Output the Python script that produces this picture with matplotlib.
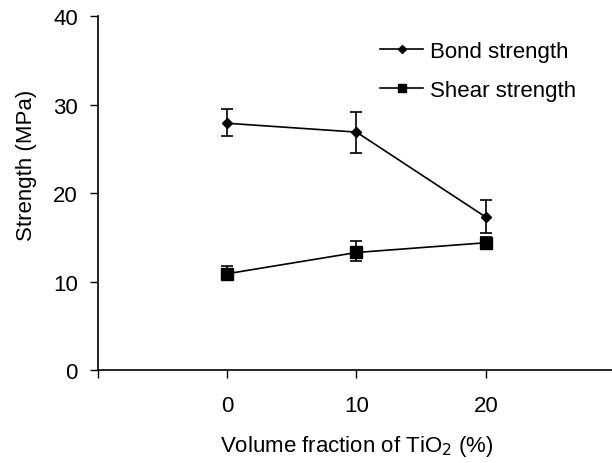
import matplotlib

matplotlib.use("Agg")
import matplotlib.pyplot as plt
from matplotlib.lines import Line2D

plt.rcParams["font.family"] = ["Liberation Sans", "DejaVu Sans"]

volume_fraction = [0, 10, 20]
bond_strength = [27.9, 26.9, 17.3]
bond_err_low = [1.4, 2.4, 1.8]
bond_err_high = [1.6, 2.3, 1.9]
shear_strength = [10.9, 13.3, 14.4]
shear_err_low = [0.7, 1.0, 0.6]
shear_err_high = [0.9, 1.3, 0.7]

fig = plt.figure(figsize=(6.12, 4.64), dpi=100)
ax = fig.add_axes([0.160, 0.200, 0.845, 0.763])

line_kw = dict(color="black", linewidth=1.2, elinewidth=1.2,
               capsize=4.3, capthick=1.2)
ax.errorbar(volume_fraction, bond_strength, yerr=[bond_err_low, bond_err_high],
            marker="D", markersize=5.6, **line_kw)
ax.errorbar(volume_fraction, shear_strength, yerr=[shear_err_low, shear_err_high],
            marker="s", markersize=8.5, **line_kw)

ax.set_xlim(-10, 30)
ax.set_ylim(0, 40)
ax.set_xticks([-10, 0, 10, 20])
ax.set_xticklabels(["", "0", "10", "20"])
ax.set_yticks([0, 10, 20, 30, 40])

for side in ("top", "right"):
    ax.spines[side].set_visible(False)
for side in ("left", "bottom"):
    ax.spines[side].set_linewidth(1.2)
ax.tick_params(direction="out", length=6, width=1.0, labelsize=16)
ax.tick_params(axis="x", pad=12)
ax.tick_params(axis="y", pad=8.5)

ax.set_xlabel("Volume fraction of TiO$_2$ (%)", fontsize=16, labelpad=12)
ax.set_ylabel("Strength (MPa)", fontsize=16)
ax.yaxis.set_label_coords(-0.118, 0.58)

# smaller markers in the legend keys
handles = [
    Line2D([], [], color="black", linewidth=1.2, marker="D", markersize=4),
    Line2D([], [], color="black", linewidth=1.2, marker="s", markersize=6),
]
fig.legend(handles, ["Bond strength", "Shear strength"], loc="upper left",
           bbox_to_anchor=(380 / 612, 1 - 42 / 464), frameon=False, fontsize=16,
           handlelength=1.95, handletextpad=0.3, labelspacing=0.8,
           borderpad=0, borderaxespad=0)

fig.savefig("out.png", dpi=100)
